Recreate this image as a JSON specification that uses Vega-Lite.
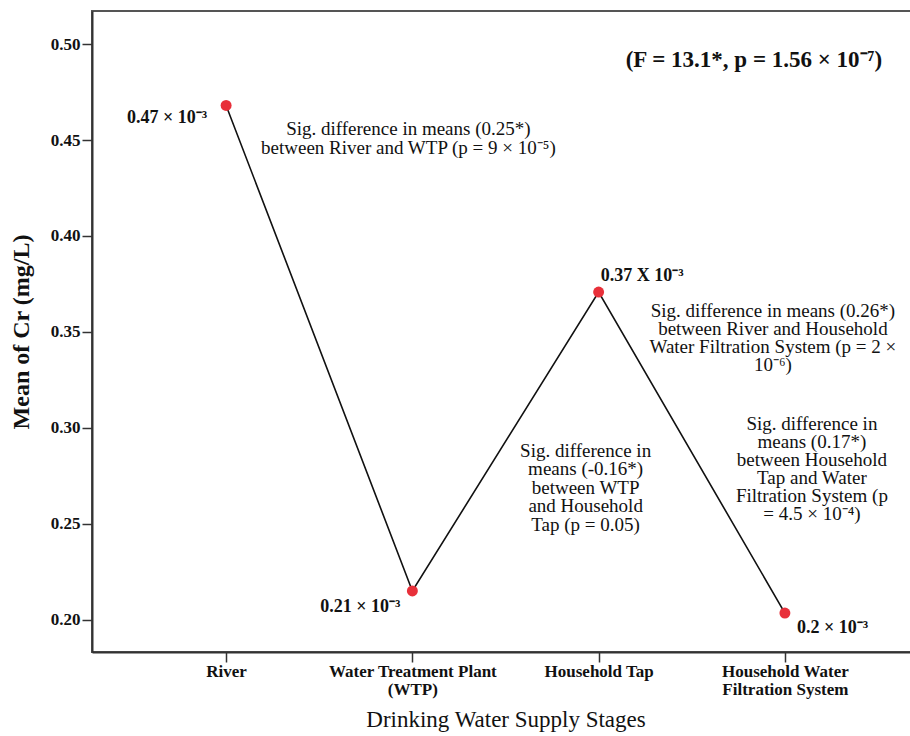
{
  "$schema": "https://vega.github.io/schema/vega-lite/v6.json",
  "width": 827,
  "height": 641,
  "autosize": {"type": "none"},
  "padding": {"left": 92, "top": 11, "right": 0, "bottom": 84},
  "background": "white",
  "config": {"view": {"stroke": "#555", "strokeWidth": 2}, "font": "Liberation Serif"},
  "data": {"values": [
    {"stage": "River", "mean": 0.468, "label": "0.47 × 10⁻³"},
    {"stage": "Water Treatment Plant (WTP)", "mean": 0.2151, "label": "0.21 × 10⁻³"},
    {"stage": "Household Tap", "mean": 0.3708, "label": "0.37 X 10⁻³"},
    {"stage": "Household Water Filtration System", "mean": 0.2036, "label": "0.2 × 10⁻³"}
  ]},
  "encoding": {
    "x": {"field": "stage", "type": "nominal", "sort": null,
      "scale": {"type": "point", "padding": 0.72},
      "axis": {"labelAngle": 0, "domainColor": "#333", "domainWidth": 2, "tickColor": "#333", "tickWidth": 1.5, "tickSize": 10,
        "labelFont": "Liberation Serif", "labelFontWeight": "bold", "labelFontSize": 17, "labelColor": "#111", "labelPadding": 1, "labelLineHeight": 18,
        "labelExpr": "datum.label == 'Water Treatment Plant (WTP)' ? ['Water Treatment Plant', '(WTP)'] : datum.label == 'Household Water Filtration System' ? ['Household Water', 'Filtration System'] : datum.label",
        "title": "Drinking Water Supply Stages", "titleFont": "Liberation Serif", "titleFontSize": 23, "titleFontWeight": "normal", "titleColor": "#111", "titlePadding": 11}},
    "y": {"field": "mean", "type": "quantitative",
      "scale": {"domain": [0.1833, 0.5172], "nice": false, "zero": false},
      "axis": {"values": [0.2, 0.25, 0.3, 0.35, 0.4, 0.45, 0.5], "format": ".2f", "grid": false,
        "domainColor": "#333", "domainWidth": 2, "tickColor": "#333", "tickWidth": 1.5, "tickSize": 10,
        "labelFont": "Liberation Serif", "labelFontWeight": "bold", "labelFontSize": 17, "labelColor": "#111", "labelPadding": 2,
        "title": "Mean of Cr (mg/L)", "titleFont": "Liberation Serif", "titleFontSize": 24, "titleFontWeight": "bold", "titleColor": "#111", "titlePadding": 17}}
  },
  "layer": [
    {"mark": {"type": "line", "color": "#111", "strokeWidth": 1.6}},
    {"mark": {"type": "circle", "color": "#e8303a", "opacity": 1, "size": 120}},
    {"transform": [{"filter": "datum.stage == 'River'"}],
      "mark": {"type": "text", "font": "Liberation Serif", "fontWeight": "bold", "fontSize": 18, "align": "right", "baseline": "middle", "dx": -19, "dy": 13, "color": "#111"},
      "encoding": {"text": {"field": "label"}}},
    {"transform": [{"filter": "datum.stage == 'Water Treatment Plant (WTP)'"}],
      "mark": {"type": "text", "font": "Liberation Serif", "fontWeight": "bold", "fontSize": 18, "align": "right", "baseline": "middle", "dx": -12, "dy": 16, "color": "#111"},
      "encoding": {"text": {"field": "label"}}},
    {"transform": [{"filter": "datum.stage == 'Household Tap'"}],
      "mark": {"type": "text", "font": "Liberation Serif", "fontWeight": "bold", "fontSize": 18, "align": "left", "baseline": "middle", "dx": 2, "dy": -16, "color": "#111"},
      "encoding": {"text": {"field": "label"}}},
    {"transform": [{"filter": "datum.stage == 'Household Water Filtration System'"}],
      "mark": {"type": "text", "font": "Liberation Serif", "fontWeight": "bold", "fontSize": 18, "align": "left", "baseline": "middle", "dx": 12, "dy": 15, "color": "#111"},
      "encoding": {"text": {"field": "label"}}},
    {"transform": [{"filter": "datum.stage == 'River'"}],
      "mark": {"type": "text", "font": "Liberation Serif", "fontWeight": "bold", "fontSize": 23, "align": "center", "baseline": "middle", "dx": -31, "color": "#111",
        "text": "(F = 13.1*, p = 1.56 × 10⁻⁷)"},
      "encoding": {"x": {"datum": "Household Water Filtration System"}, "y": {"datum": 0.4917}}},
    {"transform": [{"filter": "datum.stage == 'River'"}],
      "mark": {"type": "text", "font": "Liberation Serif", "fontWeight": "normal", "fontSize": 19, "align": "center", "baseline": "top", "lineHeight": 19, "dx": -4, "color": "#111",
        "text": ["Sig. difference in means (0.25*)", "between River and WTP (p = 9 × 10⁻⁵)"]},
      "encoding": {"x": {"datum": "Water Treatment Plant (WTP)"}, "y": {"datum": 0.4604}}},
    {"transform": [{"filter": "datum.stage == 'River'"}],
      "mark": {"type": "text", "font": "Liberation Serif", "fontWeight": "normal", "fontSize": 19, "align": "center", "baseline": "top", "lineHeight": 18, "dx": -12, "color": "#111",
        "text": ["Sig. difference in means (0.26*)", "between River and Household", "Water Filtration System (p = 2 ×", "10⁻⁶)"]},
      "encoding": {"x": {"datum": "Household Water Filtration System"}, "y": {"datum": 0.3656}}},
    {"transform": [{"filter": "datum.stage == 'River'"}],
      "mark": {"type": "text", "font": "Liberation Serif", "fontWeight": "normal", "fontSize": 19, "align": "center", "baseline": "top", "lineHeight": 18.5, "dx": -13, "color": "#111",
        "text": ["Sig. difference in", "means (-0.16*)", "between WTP", "and Household", "Tap (p = 0.05)"]},
      "encoding": {"x": {"datum": "Household Tap"}, "y": {"datum": 0.2927}}},
    {"transform": [{"filter": "datum.stage == 'River'"}],
      "mark": {"type": "text", "font": "Liberation Serif", "fontWeight": "normal", "fontSize": 19, "align": "center", "baseline": "top", "lineHeight": 18, "dx": 27, "color": "#111",
        "text": ["Sig. difference in", "means (0.17*)", "between Household", "Tap and Water", "Filtration System (p", "= 4.5 × 10⁻⁴)"]},
      "encoding": {"x": {"datum": "Household Water Filtration System"}, "y": {"datum": 0.3068}}}
  ]
}
